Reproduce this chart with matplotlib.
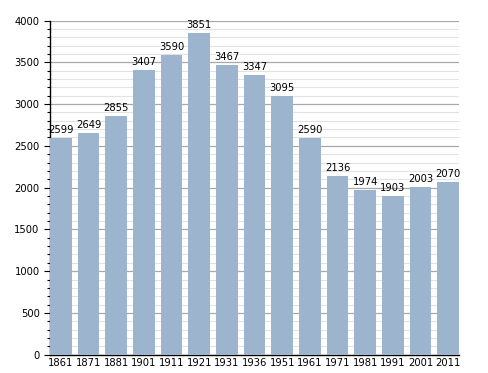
import numpy as np
import matplotlib.pyplot as plt
from matplotlib.ticker import MultipleLocator

# population par année de recensement
years = ["1861", "1871", "1881", "1901", "1911", "1921", "1931", "1936",
         "1951", "1961", "1971", "1981", "1991", "2001", "2011"]
population = [2599, 2649, 2855, 3407, 3590, 3851, 3467, 3347,
              3095, 2590, 2136, 1974, 1903, 2003, 2070]

fig = plt.figure(figsize=(4.88, 3.73), dpi=100)
ax = fig.add_axes([0.1025, 0.049, 0.838, 0.896])

x = np.arange(len(years))
ax.bar(x, population, width=0.78, color="#9cb4cd", zorder=3)
for xi, v in zip(x, population):
    ax.text(xi, v + 35, str(v), ha="center", va="bottom", fontsize=7.2, zorder=4)

ax.set_xlim(-0.39, len(years) - 0.61)
ax.set_ylim(0, 4000)
ax.set_xticks(x)
ax.set_xticklabels(years, fontsize=7.2)
ax.yaxis.set_major_locator(MultipleLocator(500))
ax.yaxis.set_minor_locator(MultipleLocator(100))
ax.tick_params(axis="y", labelsize=7.2, length=4, width=0.8)
ax.tick_params(axis="y", which="minor", length=2.5, width=0.8)
ax.tick_params(axis="x", length=0, pad=2)

ax.grid(axis="y", which="major", color="#a8a8a8", lw=0.9, zorder=0)
ax.grid(axis="y", which="minor", color="#e2e2e2", lw=0.8, zorder=0)
for s in ["top", "right"]:
    ax.spines[s].set_visible(False)
ax.spines["left"].set_linewidth(1.0)
ax.spines["bottom"].set_linewidth(1.0)

fig.savefig("out.png", dpi=100)
